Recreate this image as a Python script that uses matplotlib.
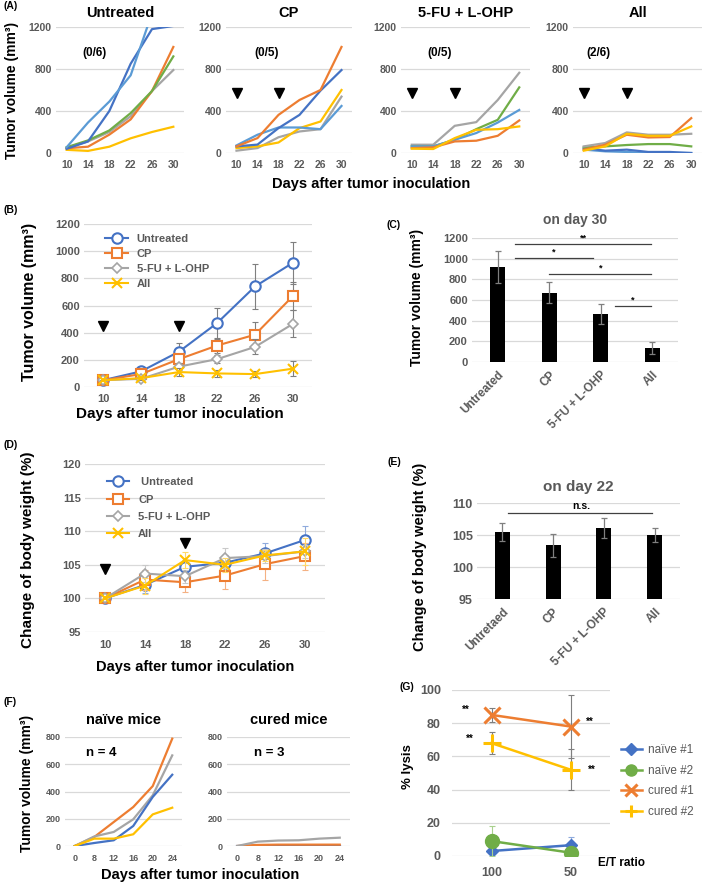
import numpy as np
import matplotlib
matplotlib.use('Agg')
import matplotlib.pyplot as plt

plt.rcParams['font.family'] = ['Liberation Sans', 'DejaVu Sans']
plt.rcParams['font.weight'] = 'bold'
plt.rcParams['axes.titleweight'] = 'bold'

W, H = 709, 886
BLUE = '#4472C4'; ORANGE = '#ED7D31'; GRAY = '#A5A5A5'; YELLOW = '#FFC000'
LBLUE = '#5B9BD5'; GREEN = '#70AD47'
TXT = '#595959'; GRID = '#D9D9D9'; EBAR = '#7F7F7F'

# ---------------- data ----------------
days = [10, 14, 18, 22, 26, 30]
groups = ['Untreated', 'CP', '5-FU + L-OHP', 'All']

# (A) individual mice
a_counts = ['(0/6)', '(0/5)', '(0/5)', '(2/6)']
a_untreated = [[30, 20, 60, 140, 200, 250],
               [50, 110, 200, 350, 590, 790],
               [45, 60, 175, 320, 590, 1010],
               [55, 120, 215, 380, 590, 920],
               [40, 110, 400, 850, 1180, 1210],
               [55, 290, 490, 740, 1330, 1500]]
a_untreated_col = [YELLOW, GRAY, ORANGE, GREEN, BLUE, LBLUE]
a_cp = [[22, 47, 150, 205, 227, 537],
        [47, 63, 100, 237, 300, 600],
        [72, 174, 243, 243, 227, 448],
        [63, 80, 237, 363, 594, 790],
        [63, 142, 363, 505, 600, 1010]]
a_cp_col = [GRAY, YELLOW, LBLUE, BLUE, ORANGE]
a_fu = [[79, 79, 259, 294, 505, 764],
        [63, 63, 126, 227, 316, 625],
        [63, 63, 126, 190, 290, 410],
        [47, 54, 110, 117, 164, 310],
        [41, 38, 142, 221, 227, 253]]
a_fu_col = [GRAY, GREEN, LBLUE, ORANGE, YELLOW]
a_all = [[32, 16, 10, 0, 0, 0],
         [47, 22, 32, 10, 10, 0],
         [54, 63, 76, 85, 85, 63],
         [63, 95, 196, 174, 174, 183],
         [32, 79, 174, 148, 152, 332],
         [22, 63, 183, 164, 164, 253]]
a_all_col = [LBLUE, BLUE, GREEN, GRAY, ORANGE, YELLOW]

dose_idx = [0, 2]   # days 10 and 18

# (B) mean tumor volume
b_unt = [50, 115, 260, 470, 740, 915]
b_unt_err = [0, 10, 65, 115, 165, 155]
b_cp = [50, 95, 205, 305, 385, 670]
b_cp_err = [0, 10, 30, 55, 90, 100]
b_fu = [50, 60, 150, 205, 295, 465]
b_fu_err = [0, 10, 25, 30, 55, 100]
b_all = [50, 65, 110, 100, 95, 135]
b_all_err = [0, 10, 30, 25, 25, 55]

# (C) day 30
c_vals = [915, 670, 465, 135]
c_err = [155, 100, 95, 55]
c_sig = [(0.33, 2.98, 1145, '**'), (0.33, 1.85, 1006, '*'),
         (1.0, 2.98, 852, '*'), (2.27, 2.98, 542, '*')]

# (D) body weight
d_unt = [100, 102.0, 104.7, 105.3, 106.7, 108.7]
d_unt_err = [0, 1.2, 1.0, 1.2, 1.5, 2.0]
d_cp = [100, 102.8, 102.4, 103.4, 105.1, 106.3]
d_cp_err = [0, 1.5, 1.4, 2.0, 2.3, 2.0]
d_fu = [100, 103.7, 103.3, 106.0, 106.3, 107.0]
d_fu_err = [0, 1.2, 1.0, 1.5, 1.0, 1.0]
d_all = [100, 101.9, 105.7, 105.0, 106.4, 107.0]
d_all_err = [0, 1.2, 1.2, 1.0, 0.8, 2.0]

# (E) day 22
e_labels = ['Untretaed', 'CP', '5-FU + L-OHP', 'All']
e_vals = [105.4, 103.4, 106.1, 105.0]
e_err = [1.4, 1.8, 1.5, 1.1]

# (F) rechallenge
f_days = [0, 8, 12, 16, 20, 24]
f_naive = [[0, 66, 176, 286, 440, 788],
           [0, 70, 103, 196, 372, 665],
           [0, 22, 42, 147, 360, 523],
           [0, 54, 54, 86, 232, 281]]
f_naive_col = [ORANGE, GRAY, BLUE, YELLOW]
f_cured = [[0, 0, 0, 0, 0, 0],
           [0, 8, 10, 10, 10, 10],
           [0, 32, 40, 42, 54, 61]]
f_cured_col = [BLUE, ORANGE, GRAY]

# (G) cytotoxicity
g_ratio = ['100', '50']
g_naive1 = [3, 6.5]; g_naive1_err = [1, 5]
g_naive2 = [9, 2]; g_naive2_err = [9, 1]
g_cured1 = [85, 78]; g_cured1_err = [4, 19]
g_cured2 = [68, 52]; g_cured2_err = [6.5, 12.5]

# ---------------- helpers ----------------
fig = plt.figure(figsize=(W / 100, H / 100), dpi=100)


def box(l, t, r, b):
    return fig.add_axes([l / W, 1 - b / H, (r - l) / W, (b - t) / H])


def ftext(x, y, s, **kw):
    return fig.text(x / W, 1 - y / H, s, **kw)


def excel(ax, yticks, fs, labels, xpad=4, ypad=3):
    for s in ax.spines.values():
        s.set_visible(False)
    ax.set_yticks(yticks)
    ax.set_ylim(yticks[0], yticks[-1])
    ax.yaxis.grid(True, color=GRID, lw=0.9)
    ax.set_axisbelow(True)
    n = len(labels)
    ax.set_xlim(-0.5, n - 0.5)
    ax.set_xticks(range(n))
    ax.set_xticklabels(labels)
    ax.tick_params(length=0, labelsize=fs, labelcolor=TXT)
    ax.tick_params(axis='x', pad=xpad)
    ax.tick_params(axis='y', pad=ypad)


def series(ax, x, y, err, color, ecolor, label, **kw):
    ax.errorbar(x, y, yerr=err, fmt='none', ecolor=ecolor, elinewidth=0.8,
                capsize=2, capthick=0.8)
    ax.plot(x, y, color=color, label=label, **kw)


x6 = np.arange(6)

# ---------------- (A) ----------------
a_boxes = [(56, 27, 184, 153), (226, 27, 352, 153),
           (401, 27, 530, 153), (573, 27, 702, 153)]
a_sets = [(a_untreated, a_untreated_col), (a_cp, a_cp_col),
          (a_fu, a_fu_col), (a_all, a_all_col)]
a_cnt_x = [0.75, 0.85, 0.73, 0.1]
for i, (bx, (lines, cols)) in enumerate(zip(a_boxes, a_sets)):
    ax = box(*bx)
    excel(ax, [0, 400, 800, 1200], 7.5, days, xpad=5)
    for v, c in zip(lines, cols):
        ax.plot(x6, v, color=c, lw=1.6)
    ax.set_title(groups[i], fontsize=10.5, pad=7)
    ax.text(a_cnt_x[i], 950, a_counts[i], fontsize=8.5, ha='left', va='center')
    if i > 0:
        ax.plot(dose_idx, [568, 568], 'v', color='k', ms=7, ls='none')
ftext(12, 90, 'Tumor volume (mm³)', rotation=90, ha='center', va='center', fontsize=10)
ftext(371, 184, 'Days after tumor inoculation', ha='center', va='center', fontsize=10.5)
ftext(3, 6, '(A)', fontsize=7.5, va='center')

# ---------------- (B) ----------------
ax = box(84, 224, 312, 387)
excel(ax, list(range(0, 1201, 200)), 8, days, xpad=5)
series(ax, x6, b_unt, b_unt_err, BLUE, EBAR, 'Untreated',
       marker='o', ms=7.5, mfc='white', mew=1.5, lw=1.5)
series(ax, x6, b_cp, b_cp_err, ORANGE, EBAR, 'CP',
       marker='s', ms=7.5, mfc='white', mew=1.5, lw=1.5)
series(ax, x6, b_fu, b_fu_err, GRAY, EBAR, '5-FU + L-OHP',
       marker='D', ms=5, mfc='white', mew=1.2, lw=1.5)
series(ax, x6, b_all, b_all_err, YELLOW, EBAR, 'All',
       marker='x', ms=7, mew=1.5, lw=1.5)
ax.plot(dose_idx, [447, 447], 'v', color='k', ms=7, ls='none')
leg = ax.legend(loc='upper left', bbox_to_anchor=(0.05, 1.0), frameon=False,
                fontsize=8, labelspacing=0.45, handlelength=2.0)
for t in leg.get_texts():
    t.set_color(TXT)
ftext(30, 302, 'Tumor volume (mm³)', rotation=90, ha='center', va='center', fontsize=11.5)
ftext(180, 414, 'Days after tumor inoculation', ha='center', va='center', fontsize=11)
ftext(3, 210, '(B)', fontsize=7.5, va='center')

# ---------------- (C) ----------------
ax = box(472, 238, 678, 362)
excel(ax, list(range(0, 1201, 200)), 8, groups, xpad=5)
ax.bar(range(4), c_vals, width=0.3, color='black', yerr=c_err,
       error_kw=dict(ecolor=EBAR, elinewidth=0.9, capsize=2.5, capthick=0.9))
for x0, x1, y, s in c_sig:
    ax.plot([x0, x1], [y, y], color='#404040', lw=0.9)
    ax.text((x0 + x1) / 2, y + 15, s, ha='center', va='bottom', fontsize=6.5)
plt.setp(ax.get_xticklabels(), rotation=45, ha='right', rotation_mode='anchor',
         fontsize=8.5)
ax.set_title('on day 30', fontsize=10, color=TXT, pad=10)
ftext(417, 297, 'Tumor volume (mm³)', rotation=90, ha='center', va='center', fontsize=10)
ftext(386, 225, '(C)', fontsize=7.5, va='center')

# ---------------- (D) ----------------
ax = box(85, 464, 325, 632)
excel(ax, [95, 100, 105, 110, 115, 120], 8, days, xpad=6)
series(ax, x6, d_unt, d_unt_err, BLUE, '#8FAADC', ' Untreated',
       marker='o', ms=7.5, mfc='white', mew=1.5, lw=1.5)
series(ax, x6, d_cp, d_cp_err, ORANGE, '#F4B183', 'CP',
       marker='s', ms=7.5, mfc='white', mew=1.5, lw=1.5)
series(ax, x6, d_fu, d_fu_err, GRAY, '#C9C9C9', '5-FU + L-OHP',
       marker='D', ms=5, mfc='white', mew=1.2, lw=1.5)
series(ax, x6, d_all, d_all_err, YELLOW, '#FFD966', 'All',
       marker='x', ms=7, mew=1.5, lw=1.5)
ax.plot(dose_idx, [104.4, 108.3], 'v', color='k', ms=7, ls='none')
leg = ax.legend(loc='upper left', bbox_to_anchor=(0.05, 0.98), frameon=False,
                fontsize=8, labelspacing=0.65, handlelength=2.0)
for t in leg.get_texts():
    t.set_color(TXT)
ftext(28, 550, 'Change of body weight (%)', rotation=90, ha='center', va='center',
      fontsize=11)
ftext(195, 667, 'Days after tumor inoculation', ha='center', va='center', fontsize=10.5)
ftext(3, 445, '(D)', fontsize=7.5, va='center')

# ---------------- (E) ----------------
ax = box(477, 503, 680, 599)
excel(ax, [95, 100, 105, 110], 9, e_labels, xpad=5)
ax.bar(range(4), e_vals, width=0.3, color='black', yerr=e_err,
       error_kw=dict(ecolor=EBAR, elinewidth=0.9, capsize=2.5, capthick=0.9))
ax.plot([0.12, 2.95], [108.5, 108.5], color='#404040', lw=0.9)
ax.text(1.55, 108.8, 'n.s.', ha='center', va='bottom', fontsize=7.5)
plt.setp(ax.get_xticklabels(), rotation=45, ha='right', rotation_mode='anchor',
         fontsize=8.5)
ax.set_title('on day 22', fontsize=11, color=TXT, pad=9)
ftext(420, 557, 'Change of body weight (%)', rotation=90, ha='center', va='center',
      fontsize=10.5)
ftext(388, 462, '(E)', fontsize=7.5, va='center')

# ---------------- (F) ----------------
f_sets = [((65, 737, 182, 846), f_naive, f_naive_col, 'naïve mice', 'n = 4', 0.56),
          ((227, 737, 350, 846), f_cured, f_cured_col, 'cured mice', 'n = 3', 0.8)]
for bx, lines, cols, title, ntxt, nx in f_sets:
    ax = box(*bx)
    excel(ax, [0, 200, 400, 600, 800], 6.5, f_days, xpad=6)
    for v, c in zip(lines, cols):
        ax.plot(x6, v, color=c, lw=1.6)
    ax.set_title(title, fontsize=10.5, pad=9)
    ax.text(nx, 683, ntxt, fontsize=9.5, ha='left', va='center')
ftext(27, 783, 'Tumor volume (mm³)', rotation=90, ha='center', va='center', fontsize=10)
ftext(200, 875, 'Days after tumor inoculation', ha='center', va='center', fontsize=10.5)
ftext(3, 702, '(F)', fontsize=7.5, va='center')

# ---------------- (G) ----------------
ax = box(452, 690, 610, 856)
excel(ax, [0, 20, 40, 60, 80, 100], 9, g_ratio, xpad=8, ypad=8)
x2 = np.arange(2)
series(ax, x2, g_naive1, g_naive1_err, BLUE, '#8FAADC', 'naïve #1',
       marker='D', ms=6, lw=1.8)
series(ax, x2, g_naive2, g_naive2_err, GREEN, '#A9D18E', 'naïve #2',
       marker='o', ms=10, lw=1.8)
series(ax, x2, g_cured1, g_cured1_err, ORANGE, EBAR, 'cured #1',
       marker='x', ms=12, mew=2.2, lw=1.8)
series(ax, x2, g_cured2, g_cured2_err, YELLOW, EBAR, 'cured #2',
       marker='+', ms=13, mew=2.2, lw=1.8)
for x, y in [(-0.32, 88), (-0.28, 70.5), (1.24, 81), (1.27, 52)]:
    ax.text(x, y, '**', fontsize=7, ha='center', va='center')
leg = ax.legend(loc='upper left', bbox_to_anchor=(1.0, 0.74), frameon=False,
                labelspacing=0.75, handlelength=1.8, handletextpad=0.5,
                prop=dict(weight='normal', size=8.5))
for t in leg.get_texts():
    t.set_color(TXT)
for h in leg.legend_handles:
    h.set_markersize(min(h.get_markersize(), 8))
ftext(408, 767, '% lysis', rotation=90, ha='center', va='center', fontsize=9.5)
ftext(622, 863, 'E/T ratio', ha='center', va='center', fontsize=8.5)
ftext(400, 687, '(G)', fontsize=7.5, va='center')

fig.savefig('out.png', dpi=100)
